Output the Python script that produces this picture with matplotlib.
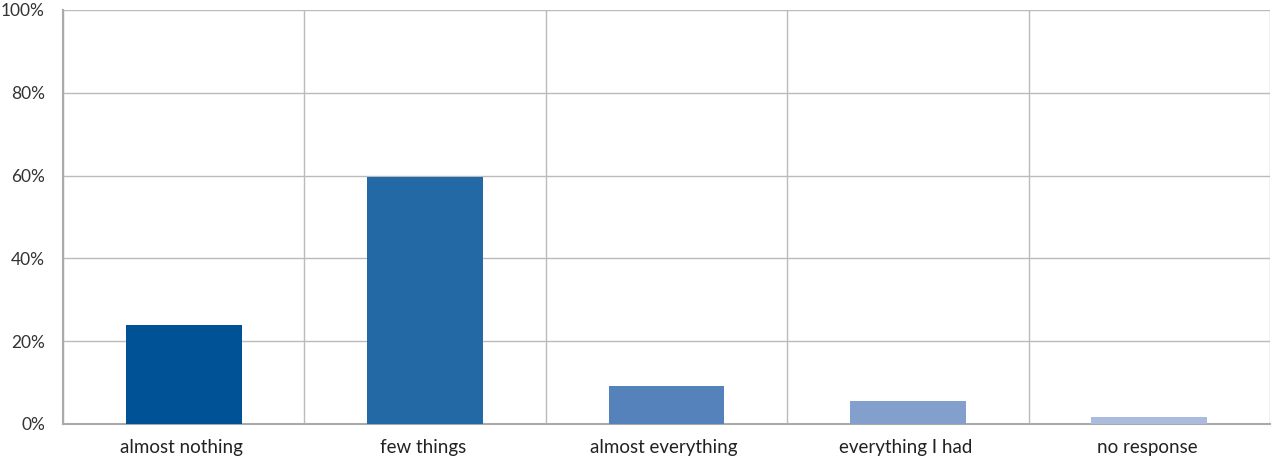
import matplotlib
matplotlib.use("Agg")
import matplotlib.pyplot as plt
import numpy as np
from matplotlib.ticker import PercentFormatter

categories = ["almost nothing", "few things", "almost everything", "everything I had", "no response"]
values = [24.0, 59.7, 9.2, 5.6, 1.7]
colors = ["#005296", "#2369A6", "#5582BA", "#839FCB", "#AABBDD"]

plt.rcParams['font.family'] = ['Lato', 'DejaVu Sans']

fig = plt.figure(figsize=(12.72, 4.63), dpi=100)
ax = fig.add_axes([63 / 1272, 1 - 424 / 463, (1270 - 63) / 1272, (424 - 10) / 463])

x = np.arange(len(categories))
ax.bar(x, values, width=0.48, color=colors, zorder=3)

ax.set_xlim(-0.5, len(categories) - 0.5)
ax.set_ylim(0, 100)
ax.set_yticks(np.arange(0, 101, 20))
ax.yaxis.set_major_formatter(PercentFormatter(decimals=0))
ax.set_xticks(x - 0.01)
ax.set_xticklabels(categories)
ax.set_xticks(np.arange(-0.5, len(categories), 1), minor=True)

ax.grid(axis='y', which='major', color='#BBBBBB', linewidth=1, zorder=0)
ax.grid(axis='x', which='minor', color='#BBBBBB', linewidth=1, zorder=0)
ax.tick_params(axis='x', which='both', length=0, labelsize=13.5, colors='#222222', pad=11)
ax.tick_params(axis='y', which='both', length=0, labelsize=12.5, colors='#333333', pad=13)

for side in ['top', 'right']:
    ax.spines[side].set_visible(False)
ax.spines['left'].set_color('#AAAAAA')
ax.spines['bottom'].set_color('#AAAAAA')
ax.spines['left'].set_linewidth(1.5)
ax.spines['bottom'].set_linewidth(1.5)

fig.savefig("out.png", dpi=100)
